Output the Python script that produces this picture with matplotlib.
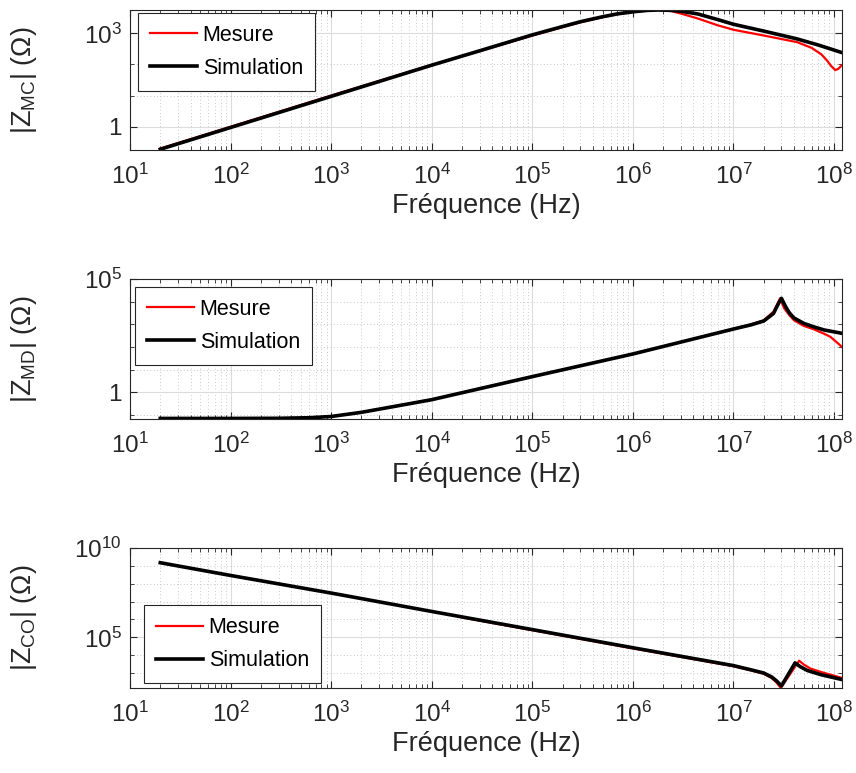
import numpy as np
import matplotlib
matplotlib.use('Agg')
import matplotlib.pyplot as plt
from matplotlib.ticker import LogLocator, NullFormatter, FixedLocator

plt.rcParams['font.family'] = ['Liberation Sans', 'DejaVu Sans']
plt.rcParams['mathtext.fontset'] = 'custom'
plt.rcParams['mathtext.rm'] = 'Liberation Serif:italic'
plt.rcParams['mathtext.sf'] = 'Liberation Sans'
plt.rcParams['mathtext.default'] = 'regular'

# |Z_MC| : mode commun
f_mc_sim = [20, 100, 1e3, 1e4, 3e4, 1e5, 2e5, 3e5, 5e5, 7e5, 1e6, 1.4e6, 1.8e6, 2.4e6,
            3e6, 4.4e6, 7e6, 1e7, 2e7, 4.3e7, 7e7, 1.2e8]
z_mc_sim = [0.19, 0.95, 9.5, 95, 275, 890, 1650, 2350, 3400, 4200, 4900, 5450, 5600, 5450,
            5100, 4200, 2750, 1950, 1180, 660, 420, 240]
f_mc_mes = [20, 100, 1e3, 1e4, 3e4, 1e5, 2e5, 3e5, 5e5, 7e5, 1e6, 1.4e6, 1.8e6, 2.4e6,
            3e6, 4.4e6, 7e6, 1e7, 2e7, 4.3e7, 6e7, 7.5e7, 8.5e7, 9.4e7, 1.03e8, 1.1e8, 1.2e8]
z_mc_mes = [0.2, 1.0, 10, 97, 270, 850, 1580, 2250, 3300, 4100, 4800, 5400, 5600, 5200,
            4300, 3000, 1800, 1300, 850, 520, 340, 210, 135, 88, 66, 72, 96]

# |Z_MD| : mode differentiel
f_md_sim = [20, 100, 300, 600, 1e3, 2e3, 5e3, 1e4, 1e5, 1e6, 1e7, 1.5e7, 2e7, 2.5e7, 2.8e7,
            3e7, 3.3e7, 3.6e7, 4e7, 5e7, 6.3e7, 8e7, 1.2e8]
z_md_sim = [0.07, 0.07, 0.071, 0.075, 0.085, 0.13, 0.27, 0.47, 4.9, 49, 620, 950, 1400, 3000,
            8300, 14000, 6000, 3200, 1900, 1100, 770, 560, 400]
f_md_mes = [20, 100, 300, 600, 1e3, 2e3, 5e3, 1e4, 1e5, 1e6, 1e7, 1.5e7, 2e7, 2.5e7, 2.7e7,
            2.9e7, 3.2e7, 3.6e7, 4e7, 5e7, 6.3e7, 8e7, 9.2e7, 1.05e8, 1.2e8]
z_md_mes = [0.07, 0.07, 0.071, 0.075, 0.086, 0.13, 0.27, 0.48, 5.0, 49, 620, 1000, 1500, 3600,
            7000, 13800, 5000, 2500, 1500, 850, 600, 380, 280, 170, 100]

# |Z_CO|
f_co_sim = [20, 100, 1e3, 1e4, 1e5, 1e6, 1e7, 1.5e7, 2e7, 2.4e7, 2.7e7, 3e7, 4.1e7,
            4.6e7, 5.4e7, 7.4e7, 1.2e8]
z_co_sim = [1.5e9, 2.9e8, 3e7, 2.8e6, 2.7e5, 2.6e4, 2600, 1500, 1000, 600, 350, 190, 3700,
            2300, 1400, 810, 430]
f_co_mes = [2e4, 1e5, 1e6, 1e7, 1.5e7, 2e7, 2.4e7, 2.7e7, 2.95e7, 4.5e7, 5e7, 5.8e7,
            7.4e7, 1.2e8]
z_co_mes = [1.3e6, 2.5e5, 2.4e4, 2400, 1400, 900, 520, 280, 145, 4900, 3000, 1800,
            1150, 530]

panels = [
    (f_mc_mes, z_mc_mes, f_mc_sim, z_mc_sim, r'|Z$_{\mathsf{MC}}$| $(\Omega)$',
     (0.18, 5600), [1, 1e3], ['1', '$10^{3}$'], 'upper left', (8 / 712, 1 - 3 / 140)),
    (f_md_mes, z_md_mes, f_md_sim, z_md_sim, r'|Z$_{\mathsf{MD}}$| $(\Omega)$',
     (0.066, 1e5), [1, 1e5], ['1', '$10^{5}$'], 'upper left', (5 / 712, 1 - 8 / 140)),
    (f_co_mes, z_co_mes, f_co_sim, z_co_sim, r'|Z$_{\mathsf{CO}}$| $(\Omega)$',
     (145, 1e10), [1e5, 1e10], ['$10^{5}$', '$10^{10}$'], 'lower left', (14 / 712, 5 / 139)),
]

fig = plt.figure(figsize=(8.56, 7.73), dpi=100)
bottoms = [1 - 150 / 773, 1 - 419 / 773, 1 - 688 / 773]
height = 140 / 773
left = 130 / 856
width = 712 / 856
axc = '#262626'

for i, (fm, zm, fs, zs, ylab, ylim, yt, ytl, loc, anchor) in enumerate(panels):
    ax = fig.add_axes([left, bottoms[i], width, height])
    ax.set_xscale('log')
    ax.set_yscale('log')
    ax.plot(fm, zm, color='red', lw=1.6, label='Mesure')
    ax.plot(fs, zs, color='black', lw=2.6, label='Simulation')
    ax.set_xlim(10, 1.2e8)
    ax.set_ylim(*ylim)

    ax.xaxis.set_major_locator(FixedLocator([10.0 ** k for k in range(1, 9)]))
    ax.set_xticklabels(['$10^{%d}$' % k for k in range(1, 9)])
    ax.xaxis.set_minor_locator(LogLocator(base=10, subs=np.arange(2, 10), numticks=20))
    ax.xaxis.set_minor_formatter(NullFormatter())

    ax.yaxis.set_major_locator(FixedLocator(yt))
    ax.set_yticklabels(ytl)
    lo, hi = np.floor(np.log10(ylim[0])), np.ceil(np.log10(ylim[1]))
    ax.yaxis.set_minor_locator(FixedLocator([10.0 ** k for k in np.arange(lo, hi + 1)
                                             if 10.0 ** k not in yt]))
    ax.yaxis.set_minor_formatter(NullFormatter())

    ax.grid(True, which='major', color='#dcdcdc', lw=0.8, ls='-')
    ax.grid(True, which='minor', color='#b8b8b8', lw=0.6, ls=(0, (1, 3)))
    ax.set_axisbelow(True)
    ax.tick_params(which='both', direction='in', top=True, right=True, colors=axc,
                   labelsize=17.5)
    ax.tick_params(axis='x', pad=10)
    ax.tick_params(axis='y', pad=6)
    ax.tick_params(which='major', length=5, width=0.8)
    ax.tick_params(which='minor', length=3, width=0.6)
    for s in ax.spines.values():
        s.set_color(axc)
        s.set_linewidth(0.8)

    ax.set_xlabel('Fréquence (Hz)', fontsize=19.5, color=axc, labelpad=3)
    ax.set_ylabel(ylab, fontsize=19.5, color=axc)
    ax.yaxis.set_label_coords(-0.128, 0.5)

    leg = ax.legend(loc=loc, bbox_to_anchor=anchor, fontsize=15.5, fancybox=False,
                    framealpha=1, edgecolor=axc, borderaxespad=0, handlelength=2.2,
                    handletextpad=0.25, labelspacing=0.55, borderpad=0.55)
    leg.get_frame().set_linewidth(0.8)

fig.savefig('out.png', dpi=100)
